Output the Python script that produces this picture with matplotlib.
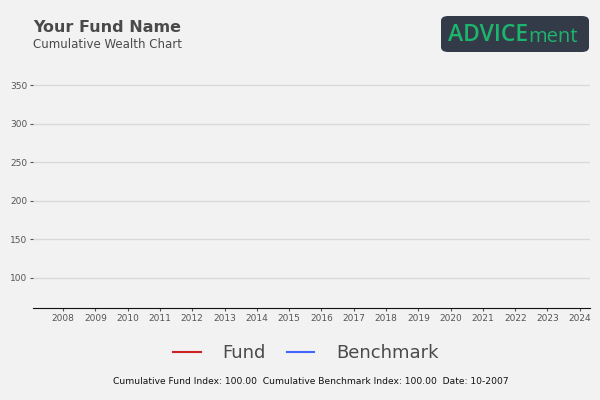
import matplotlib
matplotlib.use("Agg")
import matplotlib.pyplot as plt
from matplotlib.patches import FancyBboxPatch
from matplotlib.lines import Line2D

dates = [2007.83]
fund = [100.0]
benchmark = [100.0]
years = list(range(2008, 2025))
yticks = [100, 150, 200, 250, 300, 350]

bg = "#f2f2f2"
fig = plt.figure(figsize=(6, 4), dpi=100, facecolor=bg)
ax = fig.add_axes([0.055, 0.23, 0.928, 0.595], facecolor=bg)
ax.plot(dates, fund, color="#cc2222", lw=1.5)
ax.plot(dates, benchmark, color="#4466ff", lw=1.5)
ax.set_xlim(2007.07, 2024.31)
ax.set_ylim(61, 370)
ax.set_xticks(years)
ax.set_xticklabels([str(y) for y in years], fontsize=6.5, color="#555555")
ax.set_yticks(yticks)
ax.set_yticklabels([str(v) for v in yticks], fontsize=6.5, color="#555555")
ax.tick_params(axis="x", length=2, color="#555555", pad=2)
ax.tick_params(axis="y", length=2, color="#555555", pad=2)
ax.grid(axis="y", color="#d9d9d9", lw=1)
ax.set_axisbelow(True)
for s in ["top", "right", "left"]:
    ax.spines[s].set_visible(False)
ax.spines["bottom"].set_color("#111111")

fig.text(33/600, 1-28/400, "Your Fund Name", fontsize=11.5, fontweight="bold", color="#4a4a4a", va="center")
fig.text(33/600, 1-45/400, "Cumulative Wealth Chart", fontsize=8.5, color="#4a4a4a", va="center")

box = FancyBboxPatch((441/600, 1-52/400), 148/600, 36/400, boxstyle="round,pad=0,rounding_size=0.012",
                     transform=fig.transFigure, facecolor="#333a48", edgecolor="none")
fig.patches.append(box)
t1 = fig.text(448/600, 1-35/400, "ADVICE", fontsize=16.5, fontweight="semibold", color="#1db56e",
              va="center", family="Open Sans")
fig.canvas.draw()
bb = t1.get_window_extent()
fig.text(bb.x1/600 + 0.001, 1-37/400, "ment", fontsize=14.5, color="#1db56e", va="center", family="Open Sans")

handles = [Line2D([], [], color="#cc2222", lw=1.5), Line2D([], [], color="#4466ff", lw=1.5)]
fig.legend(handles, ["Fund", "Benchmark"], loc="center", bbox_to_anchor=(0.51, 1-353/400), ncol=2,
           frameon=False, fontsize=13, labelcolor="#4a4a4a", handlelength=1.5, columnspacing=1.2, handletextpad=1.2)
fig.text(311/600, 1-382/400, "Cumulative Fund Index: 100.00  Cumulative Benchmark Index: 100.00  Date: 10-2007",
         fontsize=6.6, color="#111111", ha="center", va="center")
fig.savefig("out.png", facecolor=bg)
